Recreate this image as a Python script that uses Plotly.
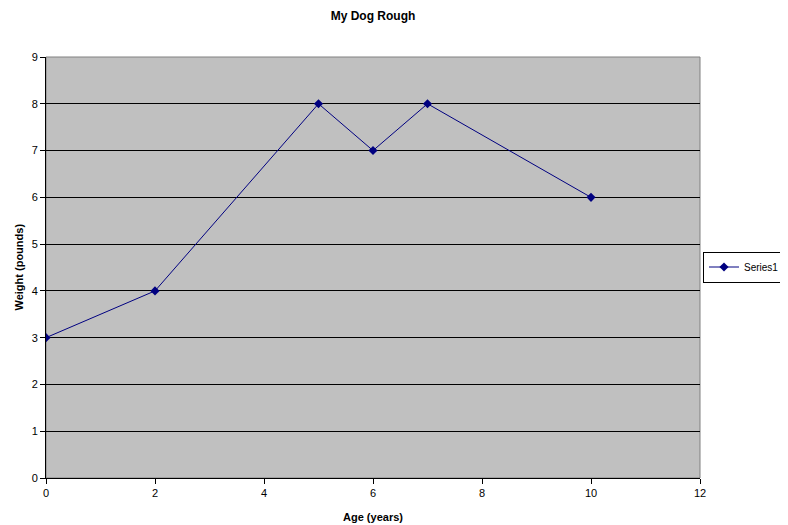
import plotly.graph_objects as go

age = [0, 2, 5, 6, 7, 10]
weight = [3, 4, 8, 7, 8, 6]

W, H = 780, 517  # page body has an 8px margin
L, R, T, B = 38, 88, 49, 47
PW = W - L - R

fig = go.Figure()
fig.add_trace(go.Scatter(
    x=age, y=weight, mode="lines+markers", name="Series1",
    line=dict(color="#000080", width=1),
    marker=dict(symbol="diamond", size=7, color="#000080"),
))

fig.add_shape(type="rect", xref="paper", yref="paper", x0=0, y0=0, x1=1, y1=1,
              line=dict(color="#808080", width=1), layer="below")

fig.add_annotation(text="<b>Weight (pounds)</b>", xref="paper", yref="paper",
                   x=(10 - L) / PW, y=0.5, xanchor="center", yanchor="middle",
                   textangle=-90, showarrow=False, font=dict(size=11))

fig.update_layout(
    width=W, height=H,
    margin=dict(l=L, r=R, t=T, b=B),
    paper_bgcolor="white",
    plot_bgcolor="#C0C0C0",
    font=dict(family="Arial, Liberation Sans, sans-serif", size=11, color="black"),
    title=dict(text="<b>My Dog Rough</b>", x=0.5, xref="paper", yref="container",
               y=1 - 8/H, yanchor="middle", font=dict(size=12)),
    showlegend=True,
    legend=dict(xref="container", yref="container", x=695/W, y=(H-259)/H,
                xanchor="left", yanchor="middle",
                bordercolor="black", borderwidth=1, bgcolor="white",
                font=dict(size=10), itemwidth=30, tracegroupgap=0),
    xaxis=dict(range=[0, 12], dtick=2, showgrid=False, zeroline=False,
               showline=True, linecolor="black", linewidth=1, automargin=False,
               ticks="outside", ticklen=5, tickcolor="black",
               title=dict(text="<b>Age (years)</b>", font=dict(size=11), standoff=15)),
    yaxis=dict(range=[0, 9], dtick=1, showgrid=True, gridcolor="black", gridwidth=1,
               zeroline=False, showline=True, linecolor="black", linewidth=1, automargin=False,
               ticks="outside", ticklen=5, tickcolor="black"),
)

fig.write_html("out.html")
